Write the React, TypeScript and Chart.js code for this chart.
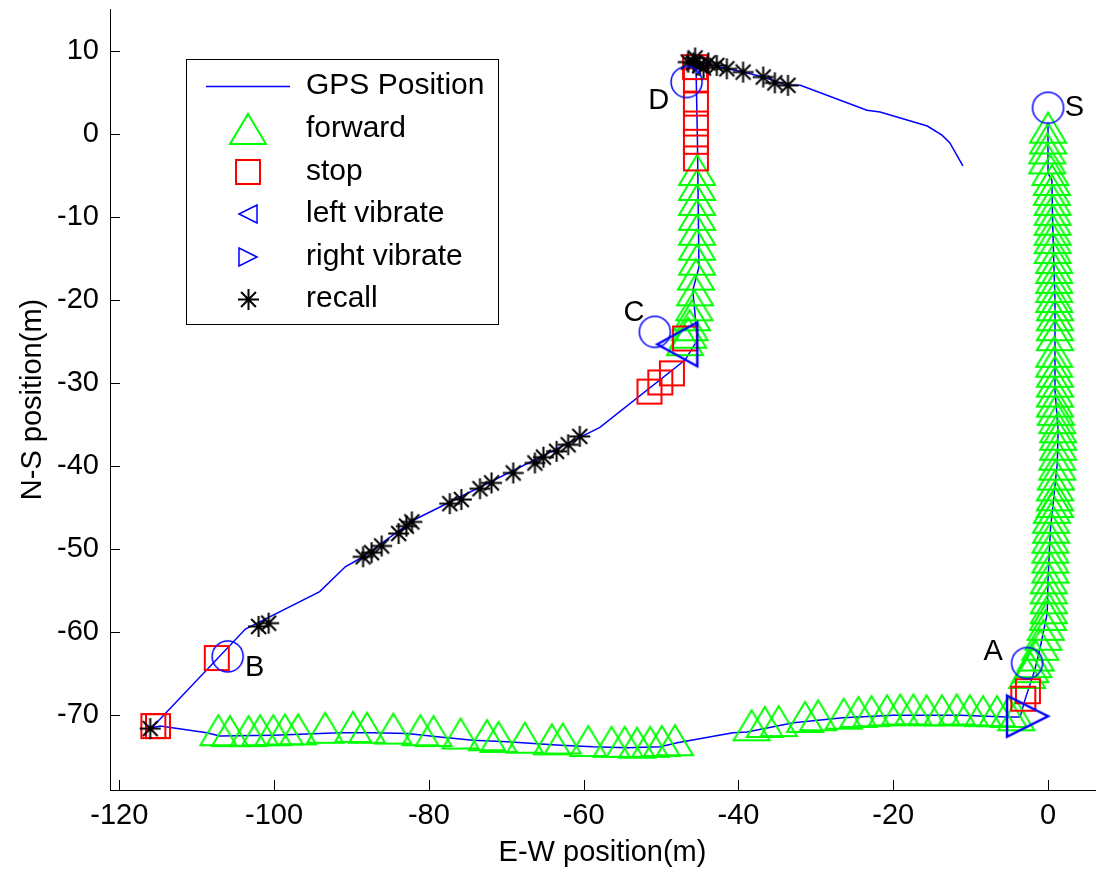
import React, { useEffect, useRef } from 'react';
import { Chart, registerables } from 'chart.js';

Chart.register(...registerables);

const FONT = '"Liberation Sans", Arial, Helvetica, sans-serif';

// ---- axis ticks ----
const xTicks = [-120, -100, -80, -60, -40, -20, 0];
const yTicks = [-70, -60, -50, -40, -30, -20, -10, 0, 10];

// ---- GPS track ----
const gpsX = [0, 0, 0, 0.5, 0.6, 0.9, 0.9, 1.3, 1.2, 0.3, 0, -0.1, -1.0, -1.7, -3.0, -3.6, -5.3, -11.4, -20.0, -26.5, -32.9, -38.9, -40.7, -47.9, -50.1, -54.4, -58.8, -63.0, -69.9, -74.3, -78.6, -82.8, -87.2, -91.5, -100.1, -107.0, -108.7, -114.7, -115.8, -103.7, -94.1, -90.8, -88.5, -82.0, -57.9, -46.9, -45.3, -45.9, -45.1, -45.3, -45.5, -42.4, -39.4, -36.8, -33.7, -32.0, -23.4, -21.7, -15.6, -13.7, -12.7, -11.0];
const gpsY = [1.0, 0, -4.7, -5.5, -10.7, -20.0, -30.8, -35.6, -39.6, -47.7, -53.7, -57.7, -61.8, -64.5, -68.2, -70.2, -70.2, -70.0, -70.0, -70.3, -70.9, -72.0, -72.1, -73.3, -73.8, -73.9, -73.8, -73.6, -73.2, -73.0, -72.6, -72.2, -72.1, -72.1, -72.4, -72.5, -72.1, -71.3, -71.5, -59.6, -55.1, -52.1, -50.9, -46.5, -35.3, -27.2, -24.8, -18.8, -16.0, -0.7, 8.9, 8.1, 7.5, 6.9, 5.9, 5.9, 2.9, 2.7, 1.0, -0.1, -1.0, -3.8];

// ---- forward (green triangles) ----
const fwdColX = [0, 0, -0.1, -0.1, 0.3, 0.5, 0.5, 0.6, 0.6, 0.6, 0.6, 0.6, 0.6, 0.8, 0.8, 0.8, 0.8, 0.8, 0.9, 0.9, 0.9, 0.9, 0.8, 0.8, 0.9, 0.9, 0.9, 0.9, 1.0, 1.2, 1.3, 1.3, 1.3, 1.2, 1.2, 1.0, 0.9, 0.9, 0.9, 0.5, 0.4, 0.4, 0.3, 0.3, 0.3, 0.3, 0.1, 0.1, 0.1, 0.1, 0, -0.3, -0.6, -1.0, -1.6, -1.9, -2.3, -2.7];
const fwdColY = [0.8, -0.5, -1.7, -2.9, -4.3, -5.5, -6.7, -7.9, -9.1, -10.3, -11.5, -12.5, -13.7, -14.9, -16.1, -17.3, -18.4, -19.6, -20.6, -21.8, -23.0, -24.2, -26.2, -27.4, -28.6, -29.8, -31.0, -32.2, -33.2, -34.2, -35.3, -36.2, -37.4, -38.6, -39.8, -41.0, -42.3, -43.5, -44.3, -45.0, -46.2, -47.4, -48.6, -49.8, -51.0, -52.2, -53.5, -54.7, -55.9, -57.1, -57.9, -59.1, -60.3, -61.5, -62.8, -63.6, -64.2, -64.9];
const fwdBotX = [-5.1, -4.1, -6.6, -8.4, -10.1, -11.8, -13.7, -15.7, -17.4, -19.1, -20.8, -22.8, -24.5, -26.4, -29.7, -31.4, -34.8, -36.6, -38.3, -48.2, -49.9, -51.4, -53.1, -54.7, -56.4, -59.4, -62.7, -64.1, -67.6, -71.0, -72.5, -75.9, -79.4, -81.1, -84.6, -88.0, -89.8, -93.4, -96.9, -98.6, -100.1, -101.8, -103.3, -105.7, -107.2];
const fwdBotY = [-69.6, -70.0, -69.5, -69.5, -69.4, -69.3, -69.4, -69.4, -69.3, -69.3, -69.4, -69.5, -69.6, -69.8, -70.0, -70.2, -70.7, -70.8, -71.2, -73.0, -73.1, -73.2, -73.3, -73.2, -73.2, -73.1, -72.8, -72.9, -72.7, -72.6, -72.4, -72.2, -71.9, -71.8, -71.6, -71.5, -71.4, -71.5, -71.7, -71.7, -71.8, -71.8, -71.9, -71.9, -71.8];
const fwdDX = [-46.9, -46.5, -46.3, -46.0, -45.7, -45.6, -45.5, -45.35, -45.35, -45.35, -45.35, -45.35, -45.35, -45.35];
const fwdDY = [-24.8, -23.9, -23.0, -21.8, -20.6, -18.8, -16.9, -15.1, -13.3, -11.5, -9.7, -7.9, -6.1, -4.3];

// ---- stop (red squares) ----
const stopX = [-3.2, -2.6, -115.6, -115.0, -107.4, -51.5, -50.1, -48.6, -46.9, -45.5, -45.5, -45.5, -45.5, -45.5, -45.6];
const stopY = [-68.0, -67.1, -71.3, -71.3, -63.1, -31.0, -29.9, -28.8, -24.6, -2.9, -0.9, 1.3, 3.7, 6.5, 8.1];

// ---- vibrate (blue triangles) ----
const leftX = [-47.9];
const leftY = [-25.3];
const rightX = [-2.65];
const rightY = [-70.1];

// ---- recall (black asterisks) ----
const recallX = [-116.0, -102.0, -100.7, -88.5, -87.4, -86.1, -83.9, -82.9, -82.2, -77.3, -75.8, -73.4, -71.9, -69.1, -66.3, -65.2, -63.5, -62.0, -60.5, -46.5, -45.8, -45.6, -45.0, -44.5, -43.9, -42.8, -41.5, -39.4, -36.8, -35.3, -33.6];
const recallY = [-71.6, -59.3, -58.9, -50.9, -50.4, -49.6, -48.1, -47.2, -46.7, -44.5, -44.0, -42.7, -42.0, -40.8, -39.6, -38.9, -38.2, -37.4, -36.4, 8.7, 8.6, 9.2, 8.3, 8.0, 8.6, 8.3, 7.9, 7.5, 6.9, 6.2, 5.9];

// ---- way points (blue circles) with labels ----
const wpX = [0, -2.7, -106.0, -50.8, -46.7];
const wpY = [3.2, -63.7, -62.9, -23.8, 6.3];
const wpLabels = ['S', 'A', 'B', 'C', 'D'];
const wpLabelX = [3.4, -7.1, -102.5, -53.5, -50.3];
const wpLabelY = [3.2, -62.4, -64.3, -21.5, 4.0];

const legendLabels = ['GPS Position', 'forward', 'stop', 'left vibrate', 'right vibrate', 'recall'];

function pts(xs: number[], ys: number[]) {
  return xs.map((x, i) => ({ x, y: ys[i] }));
}

function makeMarker(kind: string, w: number, h: number, color: string, lw: number) {
  const pad = Math.ceil(lw) + 2;
  const c = document.createElement('canvas');
  c.width = Math.ceil(w) + 2 * pad;
  c.height = Math.ceil(h) + 2 * pad;
  const ctx = c.getContext('2d') as CanvasRenderingContext2D;
  ctx.strokeStyle = color;
  ctx.lineWidth = lw;
  ctx.lineJoin = 'miter';
  const cx = c.width / 2;
  const cy = c.height / 2;
  ctx.beginPath();
  if (kind === 'up') {
    ctx.moveTo(cx, cy - h / 2);
    ctx.lineTo(cx + w / 2, cy + h / 2);
    ctx.lineTo(cx - w / 2, cy + h / 2);
    ctx.closePath();
  } else if (kind === 'left') {
    ctx.moveTo(cx - w / 2, cy);
    ctx.lineTo(cx + w / 2, cy - h / 2);
    ctx.lineTo(cx + w / 2, cy + h / 2);
    ctx.closePath();
  } else if (kind === 'right') {
    ctx.moveTo(cx + w / 2, cy);
    ctx.lineTo(cx - w / 2, cy - h / 2);
    ctx.lineTo(cx - w / 2, cy + h / 2);
    ctx.closePath();
  } else if (kind === 'square') {
    ctx.rect(cx - w / 2, cy - h / 2, w, h);
  } else if (kind === 'circle') {
    ctx.arc(cx, cy, w / 2, 0, Math.PI * 2);
  } else if (kind === 'star') {
    const r = w / 2;
    for (let k = 0; k < 4; k++) {
      const a = (k * Math.PI) / 4;
      ctx.moveTo(cx - Math.cos(a) * r, cy - Math.sin(a) * r);
      ctx.lineTo(cx + Math.cos(a) * r, cy + Math.sin(a) * r);
    }
  }
  ctx.stroke();
  return c;
}

export default function App() {
  const ref = useRef<HTMLCanvasElement | null>(null);

  useEffect(() => {
    if (!ref.current) return;
    const mUp = makeMarker('up', 36, 30, '#00ff00', 2);
    const mSq = makeMarker('square', 24, 24, '#ff0000', 2);
    const mLeft = makeMarker('left', 40, 44, '#0000ff', 2.5);
    const mRight = makeMarker('right', 41, 41, '#0000ff', 2.5);
    const mStar = makeMarker('star', 21, 21, '#000000', 2);
    const mCircle = makeMarker('circle', 31, 31, '#0000ff', 1.5);
    const lLeft = makeMarker('left', 18, 18, '#0000ff', 1.5);
    const lRight = makeMarker('right', 18, 18, '#0000ff', 1.5);

    const inTicks = {
      id: 'inTicks',
      afterDraw(chart: any) {
        const { ctx, chartArea, scales } = chart;
        ctx.save();
        ctx.strokeStyle = '#000';
        ctx.lineWidth = 1;
        ctx.beginPath();
        for (const v of xTicks) {
          const px = Math.round(scales.x.getPixelForValue(v)) + 0.5;
          ctx.moveTo(px, chartArea.bottom);
          ctx.lineTo(px, chartArea.bottom - 10);
        }
        for (const v of yTicks) {
          const py = Math.round(scales.y.getPixelForValue(v)) + 0.5;
          ctx.moveTo(chartArea.left, py);
          ctx.lineTo(chartArea.left + 10, py);
        }
        ctx.stroke();
        ctx.restore();
      },
    };

    const wpText = {
      id: 'wpText',
      afterDatasetsDraw(chart: any) {
        const { ctx, scales } = chart;
        ctx.save();
        ctx.fillStyle = '#000';
        ctx.font = `29px ${FONT}`;
        ctx.textAlign = 'center';
        ctx.textBaseline = 'middle';
        wpLabels.forEach((t, i) => {
          ctx.fillText(t, scales.x.getPixelForValue(wpLabelX[i]), scales.y.getPixelForValue(wpLabelY[i]));
        });
        ctx.restore();
      },
    };

    const legend = {
      id: 'mLegend',
      afterDraw(chart: any) {
        const ctx = chart.ctx;
        ctx.save();
        ctx.fillStyle = '#fff';
        ctx.fillRect(186.5, 59.5, 312, 265);
        ctx.strokeStyle = '#000';
        ctx.lineWidth = 1;
        ctx.strokeRect(186.5, 59.5, 312, 265);
        const rows = [86, 129, 172, 214, 257, 299];
        const symX = 248;
        ctx.strokeStyle = '#0000ff';
        ctx.lineWidth = 1.5;
        ctx.beginPath();
        ctx.moveTo(206, rows[0] + 0.5);
        ctx.lineTo(290, rows[0] + 0.5);
        ctx.stroke();
        const syms = [mUp, mSq, lLeft, lRight, mStar];
        syms.forEach((s, i) => {
          ctx.drawImage(s, Math.round(symX - s.width / 2), Math.round(rows[i + 1] - s.height / 2));
        });
        ctx.fillStyle = '#000';
        ctx.font = `30px ${FONT}`;
        ctx.textAlign = 'left';
        ctx.textBaseline = 'middle';
        legendLabels.forEach((t, i) => ctx.fillText(t, 306, rows[i]));
        ctx.restore();
      },
    };

    const tickFont = { family: FONT, size: 29 };

    const chart = new Chart(ref.current, {
      type: 'scatter',
      data: {
        datasets: [
          { label: 'GPS Position', data: pts(gpsX, gpsY), showLine: true, borderColor: '#0000ff', borderWidth: 1.5, pointRadius: 0, tension: 0, fill: false, order: 7 } as any,
          { label: 'forward', data: pts(fwdColX, fwdColY).concat(pts(fwdBotX, fwdBotY), pts(fwdDX, fwdDY)), pointStyle: mUp, pointRadius: 5, order: 6 },
          { label: 'stop', data: pts(stopX, stopY), pointStyle: mSq, pointRadius: 5, order: 5 },
          { label: 'left vibrate', data: pts(leftX, leftY), pointStyle: mLeft, pointRadius: 5, order: 4 },
          { label: 'right vibrate', data: pts(rightX, rightY), pointStyle: mRight, pointRadius: 5, order: 3 },
          { label: 'recall', data: pts(recallX, recallY), pointStyle: mStar, pointRadius: 5, order: 2 },
          { label: 'waypoints', data: pts(wpX, wpY), pointStyle: mCircle, pointRadius: 5, order: 1 },
        ],
      },
      options: {
        animation: false,
        responsive: false,
        devicePixelRatio: 1,
        events: [],
        layout: { autoPadding: false, padding: { top: 9, right: 2, left: 0, bottom: 0 } },
        plugins: { legend: { display: false }, tooltip: { enabled: false } },
        scales: {
          x: {
            type: 'linear',
            min: -121.2,
            max: 6.07,
            afterBuildTicks: (s: any) => { s.ticks = xTicks.map((v) => ({ value: v })); },
            afterFit: (s: any) => { s.height = 85; s.paddingLeft = 0; s.paddingRight = 0; },
            grid: { display: true, drawOnChartArea: false, drawTicks: false },
            border: { display: true, color: '#000', width: 1 },
            ticks: { color: '#000', font: tickFont, padding: 9, maxRotation: 0, autoSkip: false, callback: (v: any) => String(v) },
            title: { display: true, text: 'E-W position(m)', color: '#000', font: tickFont, padding: { top: 0, bottom: 5 } },
          },
          y: {
            type: 'linear',
            min: -79.0,
            max: 15.1,
            afterBuildTicks: (s: any) => { s.ticks = yTicks.map((v) => ({ value: v })); },
            afterFit: (s: any) => { s.width = 110; s.paddingTop = 0; s.paddingBottom = 0; },
            grid: { display: true, drawOnChartArea: false, drawTicks: false },
            border: { display: true, color: '#000', width: 1 },
            ticks: { color: '#000', font: tickFont, padding: 11, autoSkip: false, callback: (v: any) => String(v) },
            title: { display: true, text: 'N-S position(m)', color: '#000', font: tickFont, padding: { top: 16, bottom: 0 } },
          },
        },
      } as any,
      plugins: [inTicks, wpText, legend],
    });
    return () => chart.destroy();
  }, []);

  return (
    <div style={{ position: 'fixed', left: 0, top: 0, width: 1097, height: 875, background: '#fff' }}>
      <canvas ref={ref} width={1097} height={875} style={{ display: 'block', width: 1097, height: 875 }} />
    </div>
  );
}
